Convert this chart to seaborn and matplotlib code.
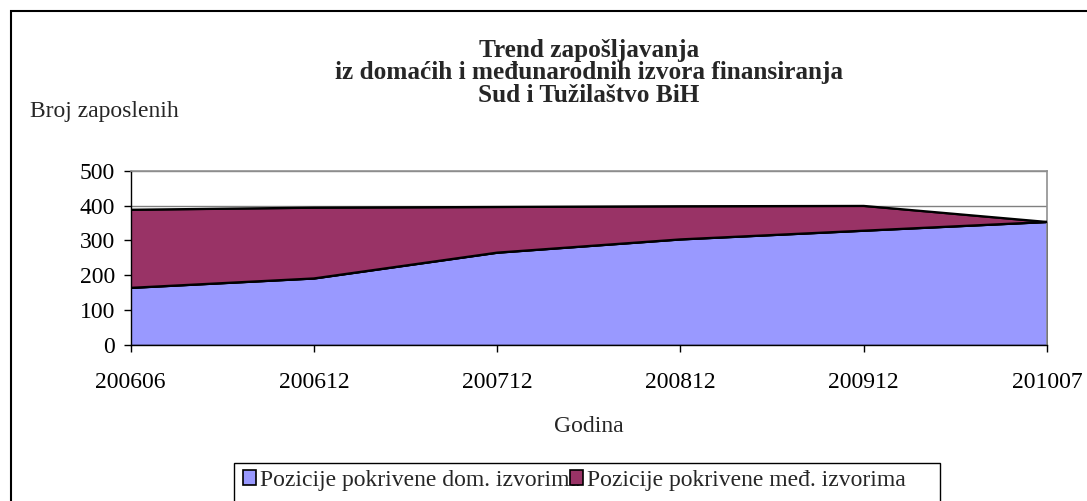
import numpy as np
import pandas as pd
import matplotlib.pyplot as plt
import seaborn as sns
from matplotlib.patches import Rectangle, Patch

# data
periods = ['200606', '200612', '200712', '200812', '200912', '201007']
domestic = [164, 191, 265, 303, 328, 353]
international = [224, 203, 131, 95, 71, 0]
series_names = ['Pozicije pokrivene dom. izvorima', 'Pozicije pokrivene međ. izvorima']
title_lines = ['Trend zapošljavanja',
               'iz domaćih i međunarodnih izvora finansiranja',
               'Sud i Tužilaštvo BiH']

sns.set_style('white')
plt.rcParams['font.family'] = ['Liberation Serif', 'DejaVu Serif']

df = pd.DataFrame({'period': periods, 'dom': domestic, 'med': international})
df['pos'] = np.arange(len(df))
df['total'] = df['dom'] + df['med']

W, H = 1087, 501
fig = plt.figure(figsize=(W / 100, H / 100), dpi=100)
ax = fig.add_axes([130.7 / W, 1 - 345 / H, (1047 - 130.7) / W, (345 - 170.7) / H])

blue = '#9999FF'
plum = '#993366'
fs = 17

# stacked areas
ax.fill_between(df['pos'], 0, df['dom'], facecolor=blue, edgecolor='black', lw=1, zorder=2)
ax.fill_between(df['pos'], df['dom'], df['total'], facecolor=plum, edgecolor='black', lw=1, zorder=2)
sns.lineplot(data=df, x='pos', y='dom', color='black', lw=1.6, ax=ax, zorder=3)
sns.lineplot(data=df, x='pos', y='total', color='black', lw=1.6, ax=ax, zorder=3)

ax.set_xlim(0, len(periods) - 1)
ax.set_ylim(0, 500)
ax.set_yticks(range(0, 501, 100))
ax.set_xticks(df['pos'], df['period'])
ax.set_xlabel('')
ax.set_ylabel('')
ax.yaxis.grid(True, color='#808080', lw=1)
ax.set_axisbelow(True)

for side in ['top', 'right']:
    ax.spines[side].set_color('#909090')
    ax.spines[side].set_linewidth(1.2)
for side in ['left', 'bottom']:
    ax.spines[side].set_color('black')
    ax.spines[side].set_linewidth(1)

ax.tick_params(axis='both', bottom=True, left=True, direction='out', length=5,
               width=1, color='black', labelsize=fs, labelcolor='black')
ax.tick_params(axis='x', pad=14.5)
ax.tick_params(axis='y', pad=6.3)

# title, axis titles
cx = 589 / W
for line, base in zip(title_lines, [56.7, 79.5, 102.3]):
    fig.text(cx, 1 - base / H, line, ha='center', va='baseline',
             fontsize=18.2, fontweight='bold')
fig.text(30 / W, 1 - 116.7 / H, 'Broj zaposlenih', ha='left', va='baseline', fontsize=fs)
fig.text(cx, 1 - 432 / H, 'Godina', ha='center', va='baseline', fontsize=fs)

# legend
handles = [Patch(facecolor=blue, edgecolor='black', lw=1.2, label=series_names[0]),
           Patch(facecolor=plum, edgecolor='black', lw=1.2, label=series_names[1])]
fig.legend(handles=handles, ncol=2, loc='upper left', bbox_to_anchor=(243 / W, 1 - 470 / H),
           frameon=False, borderpad=0, borderaxespad=0, fontsize=fs,
           handlelength=0.56, handleheight=0.56, handletextpad=0.15, columnspacing=-0.42)
fig.patches.append(Rectangle((234 / W, 1 - 510 / H), (940 - 234) / W, (510 - 463) / H,
                             transform=fig.transFigure, fill=False, ec='black', lw=1))

# outer chart border (runs off the right and bottom edges)
fig.patches.append(Rectangle((11 / W, -0.1), 1.2, 1.1 - 11 / H,
                             transform=fig.transFigure, fill=False, ec='black', lw=1.5))

fig.savefig('out.png', dpi=100)
